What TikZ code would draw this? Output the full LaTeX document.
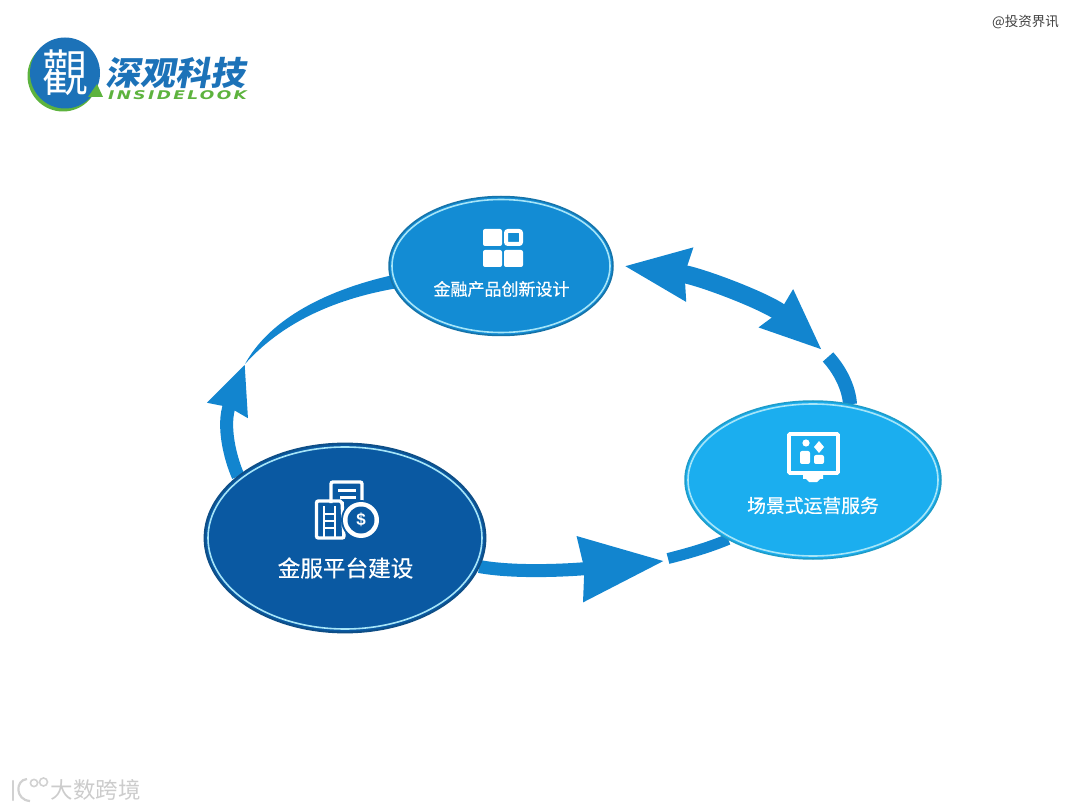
\documentclass[tikz,border=0pt]{standalone}
\usepackage{fontspec}
\setmainfont{Liberation Sans}
\newfontfamily\cjk{Noto Sans CJK SC}
\newfontfamily\cjkheavy[FakeBold=0.5]{Noto Sans CJK SC}
\newfontfamily\latinlogo[LetterSpace=14]{DejaVu Sans}
\usetikzlibrary{shapes.geometric,arrows.meta,calc}
\definecolor{arrowblue}{HTML}{1285CF}
\definecolor{bigfill}{HTML}{0A59A2}
\definecolor{bigedge}{HTML}{0E4E86}
\definecolor{topfill}{HTML}{138CD4}
\definecolor{topedge}{HTML}{1673A8}
\definecolor{rightfill}{HTML}{1BAEEF}
\definecolor{rightedge}{HTML}{1E9CC8}
\definecolor{ringlight}{HTML}{A6E5F8}
\definecolor{logoblue}{HTML}{1C72B8}
\definecolor{logogreen}{HTML}{5DB33E}
\tikzset{
  oval/.style={ellipse,inner sep=0pt},
  ring/.style={draw=ringlight,line width=1.6pt},
  label/.style={text=white,inner sep=0pt,align=center},
  shaft/.style={draw=arrowblue},
  iconfill/.style={fill=white,rounded corners=2pt},
}
\begin{document}
\begin{tikzpicture}[x=1pt,y=-1pt]
\useasboundingbox (0,0) rectangle (1080,810);
% named places
\coordinate (tipA) at (245,364);
\coordinate (tipB) at (664,561);
\coordinate (tipC) at (624,266);
\coordinate (tipD) at (822,350);
\coordinate (gapB) at (668,558.5);
\coordinate (gapD) at (828,357);
% ellipses are placed first as names; painted over connectors below
\path node[oval,minimum width=281pt,minimum height=189pt] (big) at (345,538) {};
\path node[oval,minimum width=224pt,minimum height=139pt] (fin) at (501,266) {};
\path node[oval,minimum width=256pt,minimum height=158pt] (scene) at (813,480) {};
% connectors
\draw[shaft,line width=13pt,-{Stealth[length=48pt,width=40pt,inset=2pt]}]
  (big.150) .. controls (230,458) and (222,425) .. (tipA);
\fill[arrowblue] (tipA) .. controls (268,322) and (320,292) .. (fin.185)
  -- (fin.192) .. controls (330,300) and (280,325) .. (tipA) -- cycle;
\draw[shaft,line width=13pt,-{Stealth[length=83pt,width=63pt,inset=3pt]}]
  (big.-12) .. controls (520,574) and (582,569) .. (tipB);
\draw[shaft,line width=11pt] (gapB) .. controls (690,553) and (710,547) .. (scene.215);
\draw[shaft,line width=18pt,{Stealth[length=64pt,width=50pt,inset=3pt]}-{Stealth[length=60pt,width=47pt,inset=3pt]}]
  (tipC) .. controls (700,276) and (770,303) .. (tipD);
\draw[shaft,line width=14pt] (gapD) .. controls (840,370) and (849,388) .. (scene.64);
% ellipses painted
\fill[bigfill,draw=bigedge,line width=1.8pt] (big.center) ellipse (140.5 and 94.5);
\draw[ring] (big.center) ellipse (137 and 91);
\fill[topfill,draw=topedge,line width=1.5pt] (fin.center) ellipse (112 and 69.5);
\draw[ring] (fin.center) ellipse (109 and 66.5);
\fill[rightfill,draw=rightedge,line width=1.5pt] (scene.center) ellipse (128 and 79);
\draw[ring] (scene.center) ellipse (125 and 76);
% labels
\node[label,font=\cjkheavy\fontsize{22.6}{24}\selectfont] (bigl) at (345.5,568) {金服平台建设};
\node[label,font=\cjkheavy\fontsize{17}{19}\selectfont] (finl) at (501.5,289) {金融产品创新设计};
\node[label,font=\cjkheavy\fontsize{18.8}{20}\selectfont] (scenel) at (813,505.5) {场景式运营服务};
% icon: buildings and coin
\draw[white,line width=3.4pt,rounded corners=2pt] (331,503) -- (331,482) -- (362,482) -- (362,506);
\draw[white,line width=3pt] (338,490) -- (356,490) (340,497) -- (356,497);
\draw[white,line width=3.4pt,rounded corners=2pt] (316.5,538) -- (316.5,501) -- (342,501) -- (344,538) -- cycle;
\draw[white,line width=2.6pt] (324,506) -- (324,538) (335,506) -- (335,538) (324,514) -- (335,514) (324,521) -- (335,521) (324,528) -- (335,528);
\fill[bigfill] (361,520) circle (20);
\fill[white] (361,520) circle (18);
\fill[bigfill] (361,520) circle (13.5);
\node[text=white,font=\bfseries\fontsize{17}{17}\selectfont,inner sep=0pt] (coin) at (361,520) {\$};
% icon: four squares
\fill[iconfill] (483,229) rectangle (502,246);
\draw[white,line width=4pt,rounded corners=2pt] (506,231) rectangle (521,244);
\fill[iconfill] (483,250) rectangle (502,267);
\fill[iconfill] (504,250) rectangle (523,267);
% icon: monitor
\draw[white,line width=3.6pt,rounded corners=1pt] (789,434) rectangle (838,473);
\fill[white] (803,474) rectangle (823,479) (806,479) -- (820,479) -- (817,482) -- (809,482) -- cycle;
\fill[iconfill] (800,451) rectangle (810,464);
\fill[iconfill] (814,455) rectangle (824,464);
\fill[white] (806,443) circle (3.6);
\fill[white] (819,441) -- (824,447) -- (819,453) -- (814,447) -- cycle;
% logo
\fill[logogreen] (63,76) circle (35.5);
\fill[logoblue] (65,73) ellipse (35 and 35.5);
\fill[logogreen] (88,97) -- (97,84) -- (103,97) -- cycle;
\node[text=white,font=\cjk\fontsize{46}{48}\selectfont,inner sep=0pt,yscale=1.08] (logoc) at (65,73) {觀};
\node[text=logoblue,font=\cjk\bfseries\fontsize{33}{36}\selectfont,inner sep=0pt,xslant=0.18,xscale=1.06] (logot) at (177.5,73) {深观科技};
\node[text=logogreen,font=\latinlogo\bfseries\itshape\fontsize{12}{12}\selectfont,inner sep=0pt,xscale=1.42] (logoe) at (177.5,95) {INSIDELOOK};
% watermarks
\node[text=black!75,font=\cjk\fontsize{13.5}{14}\selectfont,inner sep=0pt] (wm) at (1025.5,22) {@投资界讯};
\draw[black!18,line width=2.4pt,line cap=round] (13,781) -- (13,800);
\draw[black!18,line width=2.2pt] (27,779) .. controls (15,780) and (15,800) .. (30,801);
\draw[black!18,line width=1.6pt] (34,783) circle (3.6) (43.5,782) circle (4) ;
\node[text=black!20,font=\cjk\fontsize{22.5}{24}\selectfont,inner sep=0pt] (wm2) at (95.5,790) {大数跨境};
\end{tikzpicture}
\end{document}
